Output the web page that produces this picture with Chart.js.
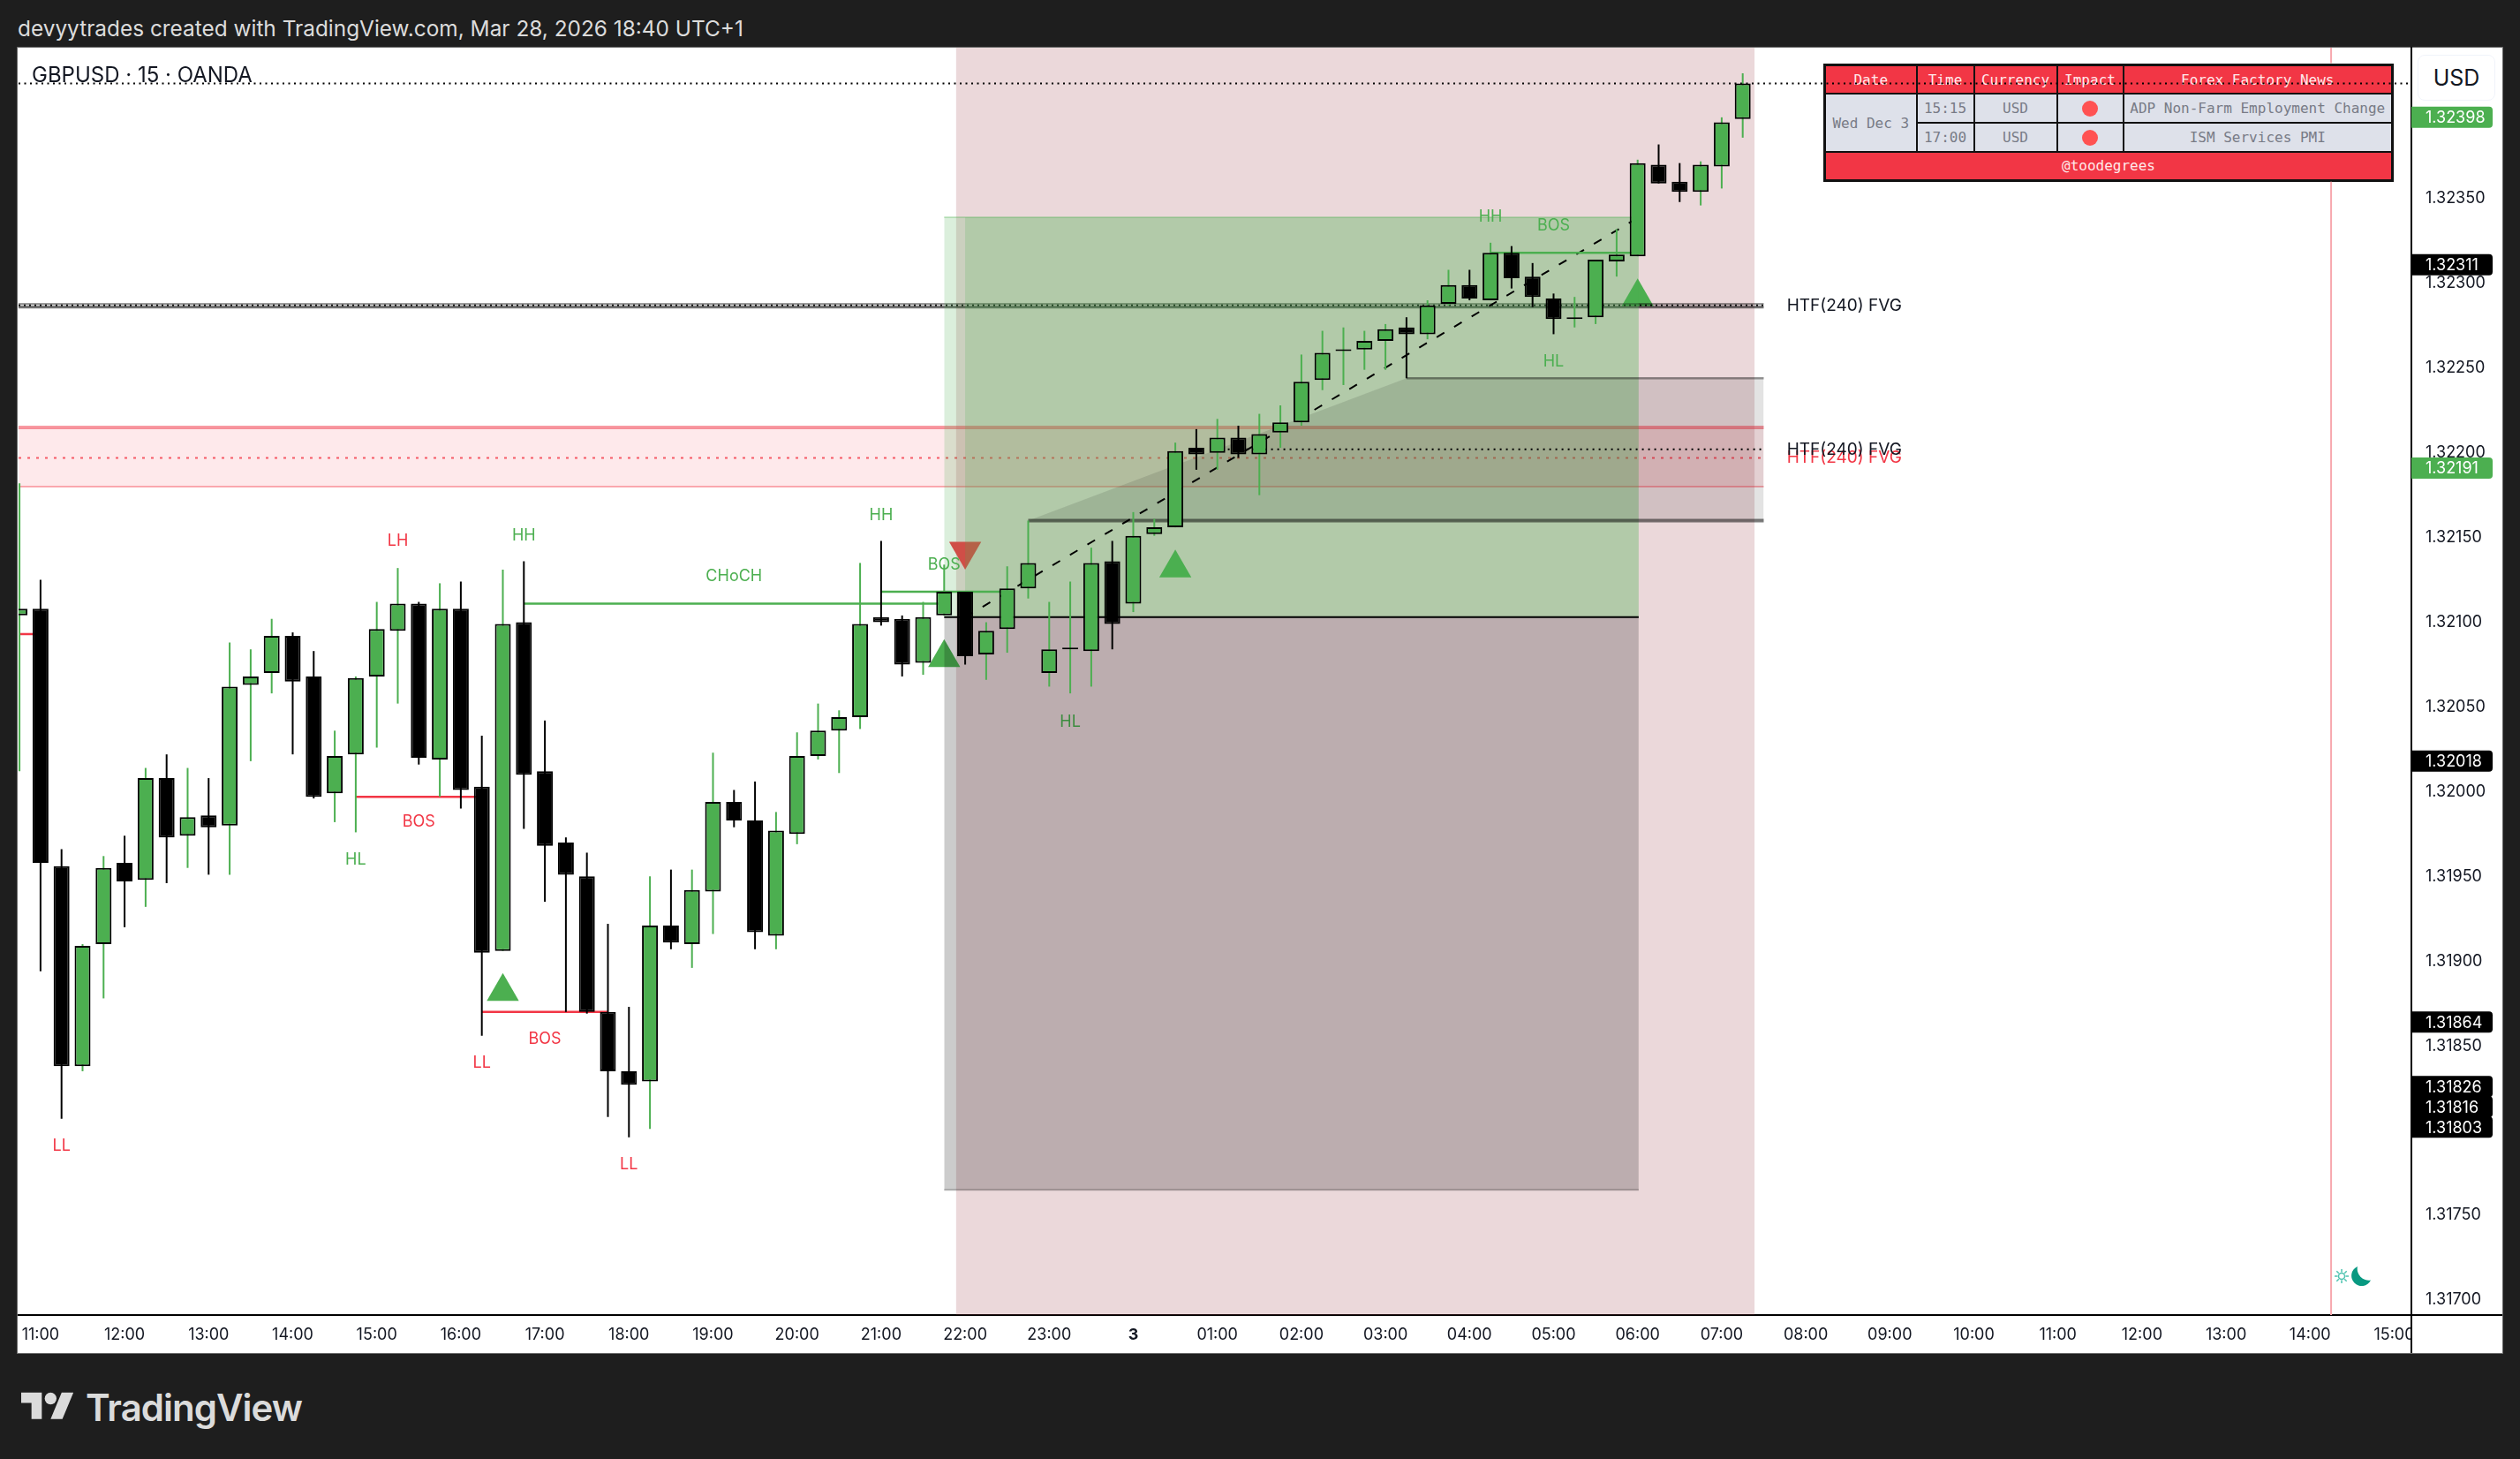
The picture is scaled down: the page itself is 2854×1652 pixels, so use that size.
<!DOCTYPE html>
<html lang="en">
<head>
<meta charset="UTF-8">
<title>GBPUSD 15 OANDA</title>
<script src="https://cdn.jsdelivr.net/npm/chart.js"></script>
<style>
  html, body { margin: 0; padding: 0; background: #1e1e1e; width: 2854px; height: 1652px; overflow: hidden; }
  body { position: relative; font-family: Inter, Roboto, sans-serif; }
  .abs { position: absolute; }
  #header { left: 20px; top: 14px; color: #dcdcdc; font-size: 24.4px; line-height: 36px; white-space: nowrap; }
  #plot { left: 19px; top: 53px; width: 2814px; height: 1478px; background: #fff; border: 1px solid #6a6a6a; z-index: 0; }
  #news { left: 2065px; top: 72px; width: 643px; height: 134px; z-index: 1; border-collapse: collapse; table-layout: fixed;
          font-family: "DejaVu Sans Mono", monospace; font-size: 16px; border: 3px solid #111; }
  #news td { border: 2px solid #111; padding: 0; text-align: center; background: #dee1ea; color: #787b86; white-space: nowrap; overflow: hidden; }
  #news td.head { background: #f23645; color: #ffe9eb; }
  .dot { display: inline-block; width: 18px; height: 18px; border-radius: 50%; background: #ff5252; vertical-align: middle; }
  canvas { position: absolute; left: 0; top: 0; z-index: 2; }
  #title { left: 36px; top: 68px; color: #131722; font-size: 24px; line-height: 34px; white-space: nowrap; z-index: 3; }
  #usd { left: 2738px; top: 62px; width: 86px; height: 50px; line-height: 50px; text-align: center; color: #131722; font-size: 25px;
         border: 1px solid #f0f3fa; border-radius: 8px; box-sizing: content-box; z-index: 3; background: #fff; }
  #corner { left: 2732px; top: 1490px; width: 102px; height: 42px; background: #fff; z-index: 3; }
  #axisv { left: 2730px; top: 1489px; width: 2px; height: 43px; background: #000; z-index: 4; }
  #axish { left: 2731px; top: 1488px; width: 103px; height: 2px; background: #000; z-index: 4; }
  #brand { left: 97px; top: 1565px; color: #dbdbdb; font-size: 42px; line-height: 58px; font-weight: 600; letter-spacing: -1px; white-space: nowrap; }
</style>
</head>
<body>
<div id="header" class="abs">devyytrades created with TradingView.com, Mar 28, 2026 18:40 UTC+1</div>
<div id="plot" class="abs"></div>
<table id="news" class="abs"></table>
<canvas id="chart" width="2854" height="1652"></canvas>
<div id="title" class="abs">GBPUSD · 15 · OANDA</div>
<div id="usd" class="abs">USD</div>
<div id="corner" class="abs"></div>
<div id="axisv" class="abs"></div>
<div id="axish" class="abs"></div>
<svg class="abs" style="left:24px;top:1570px;z-index:3" width="60" height="47" viewBox="0 0 36 28">
  <path fill="#dbdbdb" d="M14 22H7V11H0V4h14v18zM28 22h-8l7.5-18h8L28 22z"/><circle fill="#dbdbdb" cx="20" cy="8" r="4"/>
</svg>
<div id="brand" class="abs">TradingView</div>
<svg class="abs" style="left:2640px;top:1430px;z-index:3" width="48" height="30" viewBox="0 0 48 30">
  <g stroke="#4fc3b0" stroke-width="1.5" fill="none">
    <circle cx="12" cy="15" r="3.5"/>
    <path d="M12 7v3.5M12 19.5V23M4 15h3.5M16.500 15H20M6.300 9.300l2.500 2.500M15.200 18.200l2.500 2.500M6.300 20.700l2.500-2.500M15.200 11.800l2.500-2.500"/>
  </g>
  <path fill="#089981" d="M30 4a11.500 11.500 0 1 0 15 15.500A13 13 0 0 1 30 4z"/>
</svg>

<script>
// 15 minute bars, first bar sits just left of the 11:00 tick
const firstBar = -1;
const opens = [1.32104,1.32108,1.31956,1.31838,1.31910,1.31958,1.31948,1.32008,1.31974,1.31986,1.31980,1.32063,1.32070,1.32092,1.32068,1.31999,1.32022,1.32068,1.32095,1.32111,1.32019,1.32108,1.32003,1.31906,1.32100,1.32012,1.31970,1.31950,1.31870,1.31835,1.31829,1.31921,1.31910,1.31941,1.31994,1.31983,1.31915,1.31975,1.32021,1.32036,1.32044,1.32103,1.32102,1.32076,1.32104,1.32118,1.32081,1.32096,1.32120,1.32070,1.32084,1.32083,1.32136,1.32111,1.32152,1.32156,1.32203,1.32200,1.32209,1.32199,1.32212,1.32218,1.32243,1.32260,1.32261,1.32266,1.32274,1.32270,1.32288,1.32299,1.32290,1.32318,1.32304,1.32291,1.32279,1.32280,1.32313,1.32316,1.32370,1.32360,1.32354,1.32369,1.32397];
const highs = [1.32182,1.32125,1.31966,1.31910,1.31962,1.31974,1.32014,1.32022,1.32014,1.32008,1.32088,1.32084,1.32102,1.32094,1.32083,1.32036,1.32068,1.32112,1.32132,1.32112,1.32123,1.32124,1.32033,1.32131,1.32136,1.32042,1.31973,1.31964,1.31922,1.31873,1.31950,1.31954,1.31954,1.32023,1.32001,1.32006,1.31988,1.32035,1.32052,1.32048,1.32135,1.32148,1.32104,1.32112,1.32134,1.32118,1.32100,1.32133,1.32160,1.32112,1.32124,1.32144,1.32148,1.32165,1.32161,1.32206,1.32214,1.32220,1.32216,1.32223,1.32228,1.32258,1.32272,1.32274,1.32272,1.32276,1.32280,1.32290,1.32308,1.32308,1.32324,1.32322,1.32312,1.32294,1.32292,1.32314,1.32332,1.32373,1.32382,1.32371,1.32372,1.32398,1.32424];
const lows = [1.32012,1.31894,1.31807,1.31835,1.31878,1.31920,1.31932,1.31946,1.31955,1.31951,1.31951,1.32018,1.32058,1.32022,1.31996,1.31982,1.31976,1.32026,1.32052,1.32016,1.31997,1.31990,1.31856,1.31906,1.31978,1.31935,1.31870,1.31869,1.31808,1.31796,1.31801,1.31907,1.31896,1.31916,1.31979,1.31907,1.31907,1.31969,1.32019,1.32011,1.32037,1.32098,1.32068,1.32069,1.32104,1.32075,1.32066,1.32082,1.32114,1.32062,1.32058,1.32062,1.32084,1.32106,1.32151,1.32156,1.32190,1.32190,1.32197,1.32175,1.32203,1.32216,1.32237,1.32240,1.32249,1.32249,1.32244,1.32267,1.32287,1.32290,1.32290,1.32297,1.32286,1.32270,1.32274,1.32276,1.32304,1.32316,1.32359,1.32348,1.32346,1.32356,1.32386];
const closes = [1.32108,1.31958,1.31838,1.31909,1.31955,1.31947,1.32008,1.31973,1.31985,1.31979,1.32062,1.32068,1.32092,1.32065,1.31997,1.32021,1.32067,1.32096,1.32111,1.32020,1.32108,1.32001,1.31905,1.32099,1.32010,1.31968,1.31951,1.31870,1.31835,1.31827,1.31921,1.31911,1.31942,1.31994,1.31983,1.31917,1.31977,1.32021,1.32036,1.32044,1.32099,1.32100,1.32075,1.32103,1.32118,1.32080,1.32095,1.32120,1.32135,1.32084,1.32084,1.32135,1.32099,1.32151,1.32156,1.32201,1.32199,1.32209,1.32199,1.32211,1.32218,1.32242,1.32259,1.32260,1.32266,1.32273,1.32270,1.32287,1.32299,1.32291,1.32318,1.32303,1.32292,1.32279,1.32279,1.32314,1.32317,1.32371,1.32359,1.32354,1.32370,1.32395,1.32418];

// time axis, one label every 4 bars from bar 0
const timeLabels = ['11:00','12:00','13:00','14:00','15:00','16:00','17:00','18:00','19:00','20:00','21:00','22:00','23:00','3','01:00','02:00','03:00','04:00','05:00','06:00','07:00','08:00','09:00','10:00','11:00','12:00','13:00','14:00','15:00'];
const priceTicks = [1.32350,1.32300,1.32250,1.32200,1.32150,1.32100,1.32050,1.32000,1.31950,1.31900,1.31850,1.31750,1.31700];
const xRange = [-1.046, 112.82];
const yRange = [1.316911, 1.324391];

// price tags on the right axis
const tagPrices = [1.32398,1.32311,1.32191,1.32018,1.31864,1.31826,1.31816,1.31803];
const tagKinds = ['up','down','up','down','down','down','down','down'];

// long position drawn on the chart
const positionBars = [43, 44, 76.05];
const positionPrices = [1.32339, 1.32103, 1.31765];
const sessionBars = [43.56, 81.57];
const newsBar = 109;
const lastPrice = 1.32418;

// fair value gaps
const fvgEndBar = 82;
const redFvg = [1.32215, 1.32197, 1.32180];
const greyFvg = [1.32288, 1.32287, 1.32286];
const midFvg = 1.32202;
const midFvgStart = 56.5;
const demandBars = [47, 65];
const demandPrices = [1.32244, 1.32160];

// structure lines: start bar, end bar, price
const upBreakStart = [23, 40, 69];
const upBreakEnd = [43, 46, 76];
const upBreakPrice = [1.32111, 1.32118, 1.32318];
const downBreakStart = [-1, 15, 21];
const downBreakEnd = [0, 21, 27];
const downBreakPrice = [1.32093, 1.31997, 1.31870];

// buy / sell triangles
const buyBars = [22, 43, 54, 76];
const buyPrices = [1.31882, 1.32079, 1.32132, 1.32292];
const sellBars = [44];
const sellPrices = [1.32142];

// swing labels
const markText = ['LL','LH','HH','HL','BOS','LL','BOS','LL','CHoCH','HH','BOS','HL','HH','BOS','HL'];
const markBars = [1,17,23,15,18,21,24,28,33,40,43,49,69,72,72];
const markPrices = [1.31791,1.32148,1.32151,1.31960,1.31982,1.31840,1.31854,1.31780,1.32127,1.32163,1.32134,1.32041,1.32339,1.32334,1.32254];
const markKinds = ['down','down','up','up','down','down','down','down','up','up','up','up','up','up','up'];

const fvgText = ['HTF(240) FVG','HTF(240) FVG','HTF(240) FVG'];
const fvgTextBar = 83.1;
const fvgTextPrices = [1.32197, 1.32202, 1.32287];
const fvgTextKinds = ['down','plain','plain'];

// forex factory table
const newsHeaders = ['Date','Time','Currency','Impact','Forex Factory News'];
const newsDate = 'Wed Dec 3';
const newsTimes = ['15:15','17:00'];
const newsCurrency = ['USD','USD'];
const newsTitles = ['ADP Non-Farm Employment Change','ISM Services PMI'];
const newsCredit = '@toodegrees';
const newsTop = 1.32430;
const newsBottom = 1.32360;

const GREEN = '#4caf50';
const RED = '#f23645';
const kindColor = { up: GREEN, down: RED, plain: '#131722' };

function buildTable() {
  const widths = [104, 65, 94, 75, 305];
  let html = '<colgroup>' + widths.map(w => `<col style="width:${w}px">`).join('') + '</colgroup>';
  html += '<tr>' + newsHeaders.map(h => `<td class="head">${h}</td>`).join('') + '</tr>';
  newsTimes.forEach((t, i) => {
    html += '<tr>';
    if (i === 0) html += `<td rowspan="${newsTimes.length}">${newsDate}</td>`;
    html += `<td>${t}</td><td>${newsCurrency[i]}</td><td><span class="dot"></span></td><td>${newsTitles[i]}</td></tr>`;
  });
  html += `<tr><td class="head" colspan="5">${newsCredit}</td></tr>`;
  document.getElementById('news').innerHTML = html;
}
buildTable();

const barIndex = opens.map((_, i) => firstBar + i);
const isUp = i => closes[i] >= opens[i];
const isDoji = i => closes[i] === opens[i];

function hline(x0, x1, price, color, width, dash, order) {
  return {
    type: 'line', order, data: [{ x: x0, y: price }, { x: x1, y: price }],
    borderColor: color, borderWidth: width, borderDash: dash || [], pointRadius: 0, fill: false
  };
}

function band(points, bottom, color, order) {
  return {
    type: 'line', order, data: points, borderColor: 'transparent', backgroundColor: color,
    pointRadius: 0, fill: { target: { value: bottom } }
  };
}

function rect(x0, x1, top, bottom, color, order) {
  return band([{ x: x0, y: top }, { x: x1, y: top }], bottom, color, order);
}

const [tp, entry, stop] = positionPrices;
const [boxLeft, boxInner, boxRight] = positionBars;
const xMin = xRange[0], xMax = xRange[1];

const datasets = [
  rect(sessionBars[0], sessionBars[1], yRange[1], yRange[0], 'rgba(155,60,70,0.2)', 100),
  {
    type: 'line', order: 95, showLine: false, pointStyle: 'triangle', pointRadius: 21, pointBorderWidth: 0,
    pointBackgroundColor: GREEN, data: buyBars.map((x, i) => ({ x, y: buyPrices[i] }))
  },
  {
    type: 'line', order: 95, showLine: false, pointStyle: 'triangle', pointRadius: 21, pointRotation: 180, pointBorderWidth: 0,
    pointBackgroundColor: RED, data: sellBars.map((x, i) => ({ x, y: sellPrices[i] }))
  },
  // fvg zones
  rect(xMin, fvgEndBar, redFvg[0], redFvg[2], 'rgba(242,54,69,0.11)', 85),
  hline(xMin, fvgEndBar, redFvg[0], 'rgba(242,54,69,0.5)', 4, null, 84),
  hline(xMin, fvgEndBar, redFvg[2], 'rgba(242,54,69,0.4)', 2, null, 84),
  hline(xMin, fvgEndBar, redFvg[1], 'rgba(242,54,69,0.8)', 2, [3, 7], 84),
  rect(xMin, fvgEndBar, greyFvg[0], greyFvg[2], 'rgba(0,0,0,0.12)', 83),
  hline(xMin, fvgEndBar, greyFvg[0], 'rgba(0,0,0,0.38)', 2, null, 82),
  hline(xMin, fvgEndBar, greyFvg[2], 'rgba(0,0,0,0.55)', 3, null, 82),
  hline(xMin, fvgEndBar, greyFvg[1], 'rgba(0,0,0,0.9)', 2, [2, 4], 81),
  // position boxes
  rect(boxLeft, boxRight, tp, entry, 'rgba(76,175,80,0.2)', 70),
  rect(boxInner, boxRight, tp, entry, 'rgba(76,175,80,0.2)', 69),
  rect(boxLeft, boxRight, entry, stop, 'rgba(0,0,0,0.2)', 68),
  hline(boxLeft, boxRight, tp, 'rgba(76,175,80,0.3)', 2, null, 67),
  hline(boxLeft, boxRight, stop, 'rgba(0,0,0,0.25)', 2, null, 67),
  hline(boxLeft, boxRight, entry, '#000', 2, null, 66),
  // demand wedge
  band([{ x: demandBars[0], y: demandPrices[1] }, { x: demandBars[1], y: demandPrices[0] }, { x: fvgEndBar, y: demandPrices[0] }],
    demandPrices[1], 'rgba(0,0,0,0.11)', 60),
  hline(demandBars[1], fvgEndBar, demandPrices[0], 'rgba(0,0,0,0.4)', 2.5, null, 59),
  hline(demandBars[0], fvgEndBar, demandPrices[1], 'rgba(0,0,0,0.5)', 4, null, 59),
  hline(midFvgStart, fvgEndBar, midFvg, '#000', 2, [2, 5], 58),
  // news line, broken where the table sits
  {
    type: 'line', order: 50, borderColor: '#f7a8ae', borderWidth: 2, pointRadius: 0, fill: false,
    data: [{ x: newsBar, y: yRange[0] }, { x: newsBar, y: newsBottom }, { x: newsBar, y: null }, { x: newsBar, y: newsTop }, { x: newsBar, y: yRange[1] }]
  },
  hline(xMin, xMax, lastPrice, '#000', 2, [2, 4.5], 40),
  // trade direction
  {
    type: 'line', order: 30, borderColor: '#000', borderWidth: 2, borderDash: [10, 13], pointRadius: 0, fill: false,
    data: [{ x: boxInner, y: entry }, { x: boxRight, y: tp }]
  },
  // wicks and bodies
  {
    type: 'bar', order: 11, grouped: false, barThickness: 2, inflateAmount: 0, borderWidth: 0,
    backgroundColor: barIndex.map((_, i) => (isUp(i) ? GREEN : '#000')),
    data: barIndex.map((x, i) => ({ x, y: [lows[i], highs[i]] }))
  },
  {
    type: 'bar', order: 10, grouped: false, barThickness: 18, inflateAmount: 0, borderWidth: 2, borderSkipped: false,
    minBarLength: 2, borderColor: '#000',
    backgroundColor: barIndex.map((_, i) => (isDoji(i) ? '#000' : isUp(i) ? GREEN : '#000')),
    data: barIndex.map((x, i) => ({ x, y: [opens[i], closes[i]] }))
  }
];

upBreakStart.forEach((s, i) => datasets.push(hline(s, upBreakEnd[i], upBreakPrice[i], GREEN, 2.5, null, 25)));
downBreakStart.forEach((s, i) => datasets.push(hline(s, downBreakEnd[i], downBreakPrice[i], RED, 2.5, null, 25)));

const chartMarks = {
  id: 'chartMarks',
  // swing labels sit over the session colour but under the boxes, index 1 is the buy triangles
  beforeDatasetDraw(chart, args) {
    if (args.index !== 1) return;
    const { ctx, scales: { x, y } } = chart;
    ctx.save();
    ctx.font = '18px Inter, Roboto, sans-serif';
    ctx.textAlign = 'center';
    ctx.textBaseline = 'middle';
    markText.forEach((t, i) => {
      ctx.fillStyle = kindColor[markKinds[i]];
      ctx.fillText(t, x.getPixelForValue(markBars[i]), y.getPixelForValue(markPrices[i]));
    });
    ctx.restore();
  },
  afterDraw(chart) {
    const { ctx, scales: { x, y }, chartArea } = chart;
    ctx.save();
    ctx.font = '19px Inter, Roboto, sans-serif';
    ctx.textAlign = 'left';
    ctx.textBaseline = 'middle';
    fvgText.forEach((t, i) => {
      ctx.fillStyle = kindColor[fvgTextKinds[i]];
      ctx.fillText(t, x.getPixelForValue(fvgTextBar), y.getPixelForValue(fvgTextPrices[i]));
    });
    ctx.font = '18px Inter, Roboto, sans-serif';
    let prev = -100;
    tagPrices.forEach((p, i) => {
      const py = Math.max(y.getPixelForValue(p), prev + 23);
      prev = py;
      ctx.fillStyle = tagKinds[i] === 'up' ? GREEN : '#000';
      ctx.beginPath();
      ctx.roundRect(chartArea.right, py - 12, 92, 24, [0, 4, 4, 0]);
      ctx.fill();
      ctx.fillStyle = '#fff';
      ctx.fillText(p.toFixed(5), chartArea.right + 16, py + 1);
    });
    ctx.restore();
  }
};

new Chart(document.getElementById('chart'), {
  type: 'bar',
  data: { datasets },
  plugins: [chartMarks],
  options: {
    responsive: false,
    animation: false,
    events: [],
    layout: { padding: { left: 20, top: 54, right: 20, bottom: 120 } },
    plugins: { legend: { display: false }, tooltip: { enabled: false }, title: { display: false } },
    scales: {
      x: {
        type: 'linear',
        min: xRange[0],
        max: xRange[1],
        offset: false,
        grid: { display: false, drawTicks: false },
        border: { color: '#000', width: 2 },
        afterFit: s => { s.height = 43; },
        afterBuildTicks: s => { s.ticks = timeLabels.map((_, i) => ({ value: i * 4 })); },
        ticks: {
          autoSkip: false,
          maxRotation: 0,
          padding: 12,
          color: '#131722',
          font: ctx => ({ family: 'Inter, Roboto, sans-serif', size: 18, weight: timeLabels[ctx.index] === '3' ? 'bold' : 'normal' }),
          callback: (v, i) => timeLabels[i]
        }
      },
      y: {
        type: 'linear',
        position: 'right',
        min: yRange[0],
        max: yRange[1],
        grid: { display: false, drawTicks: false },
        border: { color: '#000', width: 2 },
        afterFit: s => { s.width = 103; },
        afterBuildTicks: s => { s.ticks = priceTicks.map(value => ({ value })); },
        ticks: {
          padding: 16,
          color: '#131722',
          font: { family: 'Inter, Roboto, sans-serif', size: 18 },
          callback: v => Number(v).toFixed(5)
        }
      }
    }
  }
});
</script>
</body>
</html>
